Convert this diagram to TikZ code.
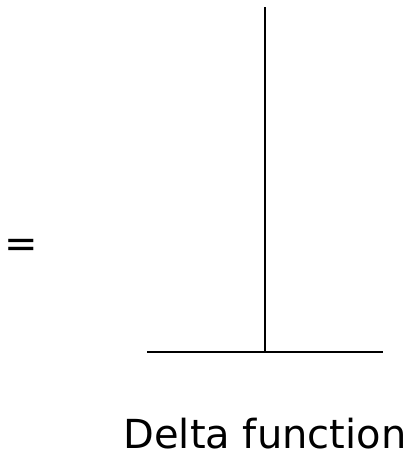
\documentclass[tikz,border=0pt]{standalone}
\usepackage{fontspec}
\setmainfont{DejaVu Sans}
\usetikzlibrary{positioning}

\begin{document}
\begin{tikzpicture}[
        x=0.5pt,
        y=-0.5pt,
        axisline/.style={
            line width=1pt,
            black
        },
        spikeline/.style={
            line width=1pt,
            black
        },
        caption/.style={
            font=\fontsize{20}{24}\selectfont,
            anchor=base,
            inner sep=0pt
        },
        equalsign/.style={
            font=\fontsize{20}{24}\selectfont,
            anchor=base,
            inner sep=0pt
        }
    ]

        \useasboundingbox (0,0) rectangle (414,455);

        % ---------------------------------------------------------------------
        % Axis and spike
        % ---------------------------------------------------------------------

        \coordinate (axisleft) at (147,352);
        \coordinate (axisright) at (383,352);
        \coordinate (spikebase) at (265,352);
        \coordinate (spiketop) at (265,7);

        \draw[axisline] (axisleft) -- (axisright);

        \draw[spikeline] (spikebase) -- (spiketop);

        % ---------------------------------------------------------------------
        % Labels
        % ---------------------------------------------------------------------

        \node[equalsign] (equals) at (21,257) {=};

        \node[caption] (label) at (265,448) {Delta function};

    \end{tikzpicture}
\end{document}
